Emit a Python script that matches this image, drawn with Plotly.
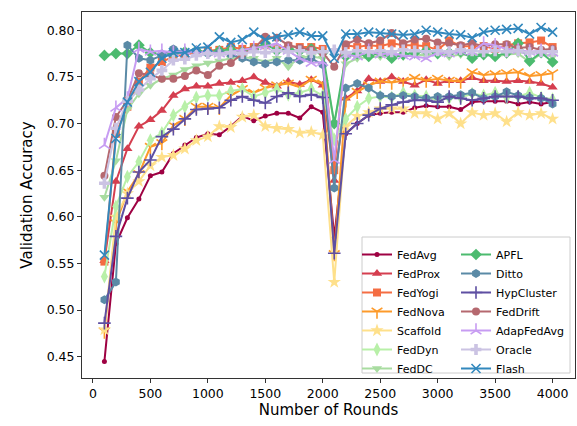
import plotly.graph_objects as go

rounds = list(range(100, 4001, 100))

FedAvg = [0.445,0.571,0.599,0.619,0.644,0.648,0.668,0.677,0.685,0.689,0.688,0.697,0.708,0.703,0.708,0.711,0.711,0.706,0.718,0.712,0.578,0.689,0.700,0.709,0.711,0.712,0.712,0.717,0.719,0.718,0.718,0.715,0.723,0.724,0.724,0.724,0.721,0.723,0.721,0.723]
FedProx = [0.553,0.638,0.673,0.697,0.704,0.714,0.730,0.737,0.740,0.740,0.743,0.744,0.746,0.750,0.744,0.740,0.745,0.742,0.747,0.741,0.639,0.727,0.735,0.748,0.745,0.750,0.745,0.741,0.747,0.743,0.746,0.746,0.749,0.746,0.746,0.745,0.746,0.745,0.743,0.739]
FedYogi = [0.552,0.689,0.718,0.745,0.760,0.766,0.772,0.774,0.776,0.778,0.779,0.782,0.780,0.782,0.784,0.781,0.783,0.782,0.782,0.780,0.650,0.784,0.782,0.784,0.783,0.786,0.784,0.784,0.783,0.779,0.789,0.783,0.783,0.783,0.780,0.784,0.786,0.787,0.789,0.782]
FedNova = [0.477,0.593,0.627,0.646,0.675,0.679,0.698,0.705,0.718,0.718,0.717,0.730,0.737,0.733,0.738,0.741,0.743,0.739,0.747,0.743,0.560,0.725,0.734,0.741,0.745,0.744,0.746,0.749,0.746,0.748,0.746,0.745,0.755,0.752,0.753,0.754,0.755,0.751,0.752,0.754]
Scaffold = [0.479,0.600,0.625,0.638,0.655,0.664,0.666,0.673,0.682,0.686,0.697,0.696,0.707,0.709,0.697,0.695,0.694,0.690,0.691,0.688,0.530,0.697,0.708,0.712,0.716,0.716,0.716,0.711,0.711,0.705,0.711,0.700,0.712,0.709,0.711,0.702,0.712,0.709,0.711,0.705]
FedDyn = [0.536,0.611,0.643,0.659,0.682,0.690,0.709,0.718,0.728,0.730,0.730,0.735,0.737,0.729,0.733,0.737,0.731,0.733,0.737,0.730,0.683,0.705,0.718,0.727,0.729,0.728,0.733,0.730,0.729,0.725,0.727,0.728,0.732,0.730,0.733,0.728,0.729,0.733,0.728,0.726]
FedDC = [0.621,0.660,0.715,0.732,0.741,0.748,0.752,0.758,0.762,0.765,0.767,0.770,0.771,0.770,0.766,0.770,0.761,0.771,0.772,0.770,0.700,0.764,0.770,0.771,0.772,0.773,0.772,0.774,0.773,0.775,0.772,0.774,0.773,0.775,0.772,0.774,0.775,0.766,0.775,0.772]
APFL = [0.773,0.775,0.775,0.784,0.776,0.774,0.775,0.777,0.778,0.776,0.778,0.779,0.777,0.780,0.786,0.778,0.780,0.778,0.780,0.776,0.700,0.772,0.775,0.772,0.776,0.770,0.774,0.776,0.778,0.775,0.776,0.777,0.770,0.774,0.772,0.776,0.786,0.767,0.776,0.766]
Ditto = [0.511,0.530,0.784,0.770,0.768,0.773,0.780,0.776,0.778,0.775,0.776,0.774,0.770,0.766,0.764,0.766,0.768,0.768,0.770,0.763,0.631,0.738,0.743,0.738,0.730,0.729,0.730,0.729,0.727,0.729,0.729,0.731,0.733,0.727,0.729,0.734,0.730,0.728,0.727,0.721]
HypCluster = [0.486,0.579,0.620,0.648,0.661,0.686,0.694,0.705,0.715,0.716,0.717,0.725,0.729,0.725,0.722,0.729,0.733,0.729,0.731,0.728,0.561,0.689,0.700,0.709,0.716,0.720,0.723,0.725,0.725,0.723,0.729,0.727,0.725,0.727,0.729,0.729,0.729,0.727,0.727,0.725]
FedDrift = [0.644,0.707,0.725,0.754,0.752,0.748,0.748,0.751,0.757,0.752,0.762,0.765,0.775,0.780,0.793,0.792,0.784,0.781,0.779,0.776,0.761,0.785,0.790,0.786,0.789,0.797,0.786,0.790,0.791,0.787,0.786,0.784,0.786,0.783,0.785,0.785,0.781,0.782,0.779,0.780]
AdapFedAvg = [0.677,0.717,0.727,0.780,0.777,0.778,0.776,0.778,0.776,0.777,0.775,0.777,0.779,0.781,0.783,0.786,0.778,0.770,0.765,0.766,0.661,0.774,0.772,0.778,0.774,0.776,0.773,0.772,0.770,0.776,0.775,0.778,0.777,0.786,0.784,0.780,0.779,0.777,0.778,0.776]
Oracle = [0.636,0.695,0.724,0.736,0.748,0.757,0.768,0.769,0.773,0.775,0.774,0.776,0.775,0.777,0.776,0.778,0.777,0.778,0.776,0.777,0.779,0.776,0.778,0.777,0.778,0.777,0.779,0.778,0.777,0.778,0.777,0.779,0.778,0.777,0.778,0.777,0.778,0.776,0.777,0.777]
Flash = [0.559,0.684,0.723,0.745,0.755,0.770,0.776,0.776,0.781,0.782,0.793,0.787,0.790,0.798,0.790,0.793,0.795,0.798,0.794,0.794,0.770,0.796,0.796,0.798,0.797,0.796,0.795,0.796,0.800,0.798,0.796,0.795,0.792,0.798,0.800,0.801,0.802,0.796,0.803,0.798]

names = ["FedAvg","FedProx","FedYogi","FedNova","Scaffold","FedDyn","FedDC",
         "APFL","Ditto","HypCluster","FedDrift","AdapFedAvg","Oracle","Flash"]
series = [FedAvg,FedProx,FedYogi,FedNova,Scaffold,FedDyn,FedDC,
          APFL,Ditto,HypCluster,FedDrift,AdapFedAvg,Oracle,Flash]
colors = ["#9e0142","#d53e4f","#f46d43","#fd9a2a","#fee08b","#b8f0a8","#a8dca0",
          "#4cbb6f","#5a8aa6","#5e4fa2","#b5686f","#c79cf2","#cbc3e3","#3288bd"]
symbols = ["circle","triangle-up","square","y-down-open","star","diamond-tall","triangle-down",
           "diamond","hexagon","cross-thin-open","circle","y-up-open","cross","x-thin-open"]
sizes = [5,9,8,9,10,10,9,9,9,9,8,9,9,9]

fig = go.Figure()
for i, (n, s) in enumerate(zip(names, series)):
    open_sym = symbols[i].endswith("-open")
    fig.add_trace(go.Scatter(
        x=rounds, y=s, name=n, mode="lines+markers",
        line=dict(color=colors[i], width=2),
        marker=dict(symbol=symbols[i], size=sizes[i], color=colors[i],
                    line=dict(color=colors[i], width=1.6 if open_sym else 0)),
        legend="legend" if i < 7 else "legend2",
    ))

L, R, T, B = 82, 2, 12, 48
W, H = 577, 426
pw, ph = W - L - R, H - T - B

def px_x(p):
    return (p - L) / pw

def px_y(p):
    return 1 - (p - T) / ph

fig.add_shape(type="rect", xref="paper", yref="paper",
              x0=px_x(362), x1=px_x(570), y0=px_y(373), y1=px_y(237),
              fillcolor="rgba(255,255,255,0.85)", line=dict(color="#cccccc", width=1),
              layer="above")

legend_common = dict(bgcolor="rgba(0,0,0,0)", borderwidth=0,
                     font=dict(family="DejaVu Sans", size=11, color="#000000"),
                     yanchor="top", xanchor="left", tracegroupgap=0)

fig.update_layout(
    width=W, height=H,
    margin=dict(l=L, r=R, t=T, b=B, autoexpand=False),
    paper_bgcolor="white", plot_bgcolor="white",
    font=dict(family="DejaVu Sans", color="#000000"),
    legend=dict(x=px_x(357), y=px_y(240), **legend_common),
    legend2=dict(x=px_x(456), y=px_y(240), **legend_common),
    xaxis=dict(range=[-95, 4195], tickvals=list(range(0, 4001, 500)),
               showline=True, mirror=True, linecolor="#333333", linewidth=1,
               ticks="outside", ticklen=4, tickcolor="#333333", showgrid=False,
               zeroline=False, tickfont=dict(size=12.5),
               title=dict(text="Number of Rounds", font=dict(size=15), standoff=2)),
    yaxis=dict(range=[0.4272, 0.8196], tickvals=[0.45,0.50,0.55,0.60,0.65,0.70,0.75,0.80],
               tickformat=".2f",
               showline=True, mirror=True, linecolor="#333333", linewidth=1,
               ticks="outside", ticklen=4, tickcolor="#333333", showgrid=False,
               zeroline=False, tickfont=dict(size=12.5),
               title=dict(text="Validation Accuracy", font=dict(size=15), standoff=10)),
)

fig.write_html("out.html", config={"displayModeBar": False},
               post_script="document.body.style.margin='0';document.body.style.overflow='hidden';")
